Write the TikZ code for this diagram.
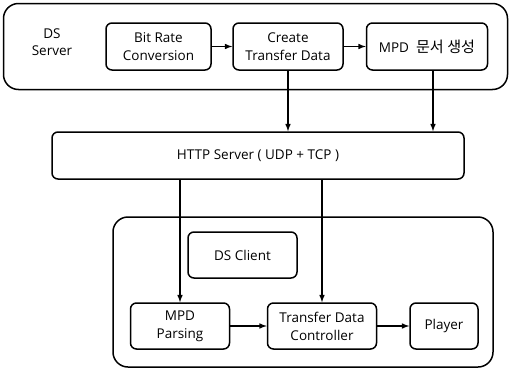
\documentclass[tikz,border=0pt]{standalone}
\usepackage{fontspec}
\setmainfont{Open Sans}
\newfontfamily\krfont[Scale=1.12]{Noto Sans CJK KR}
\usepackage{tikz}
\usetikzlibrary{positioning, arrows, calc}

\tikzset{
  blk/.style={draw, line width=1.5pt, rounded corners=6pt, align=center, inner sep=0pt,
    minimum height=47pt, font=\fontsize{13.5}{18}\selectfont},
  outer/.style={draw, line width=1.5pt, rounded corners=15pt, inner sep=0pt},
  conn/.style={->, >=latex, line width=1.5pt}
}

\begin{document}
\begin{tikzpicture}[x=1pt, y=-1pt]
			\useasboundingbox (0,0) rectangle (509,370);
			
			% server side
			\node[outer, minimum width=504pt, minimum height=86pt] (srv) at (255.5,46.5) {};
			\node[align=center, font=\fontsize{13.5}{17}\selectfont] (srvlbl) at (52,42) {DS\\Server};
			\node[blk, minimum width=105pt] (brc) at (158.5,46.5) {Bit Rate\\Conversion};
			\node[blk, minimum width=110pt] (ctd) at (288,46.5) {Create\\Transfer Data};
			\node[blk, minimum width=121pt] (mpd) at (427,46.5) {MPD\ \ {\krfont 문서 생성}};
			
			\draw[conn] (brc) -- (ctd);
			\draw[conn] (ctd) -- (mpd);
			
			% http
			\node[blk, minimum width=412pt] (http) at (258,155.5) {HTTP Server (\ UDP + TCP\ )};
			
			\draw[conn] (ctd.south) -- (ctd.south |- http.north);
			\draw[conn] ([xshift=6pt]mpd.south) -- ([xshift=6pt]mpd.south |- http.north);
			
			% client side
			\node[outer, minimum width=380pt, minimum height=150pt] (cli) at (303,292) {};
			\node[blk, minimum width=109pt, minimum height=46pt] (dsc) at (242.5,255) {DS Client};
			\node[blk, minimum width=99pt, minimum height=46pt] (parse) at (180,326) {MPD\\Parsing};
			\node[blk, minimum width=109pt, minimum height=46pt] (tdc) at (322,326) {Transfer Data\\Controller};
			\node[blk, minimum width=68pt, minimum height=46pt] (player) at (444,326) {Player};
			
			\draw[conn] (parse.north |- http.south) -- (parse.north);
			\draw[conn] (tdc.north |- http.south) -- (tdc.north);
			\draw[conn] (parse) -- (tdc);
			\draw[conn] (tdc) -- (player);
			
\end{tikzpicture}
\end{document}
